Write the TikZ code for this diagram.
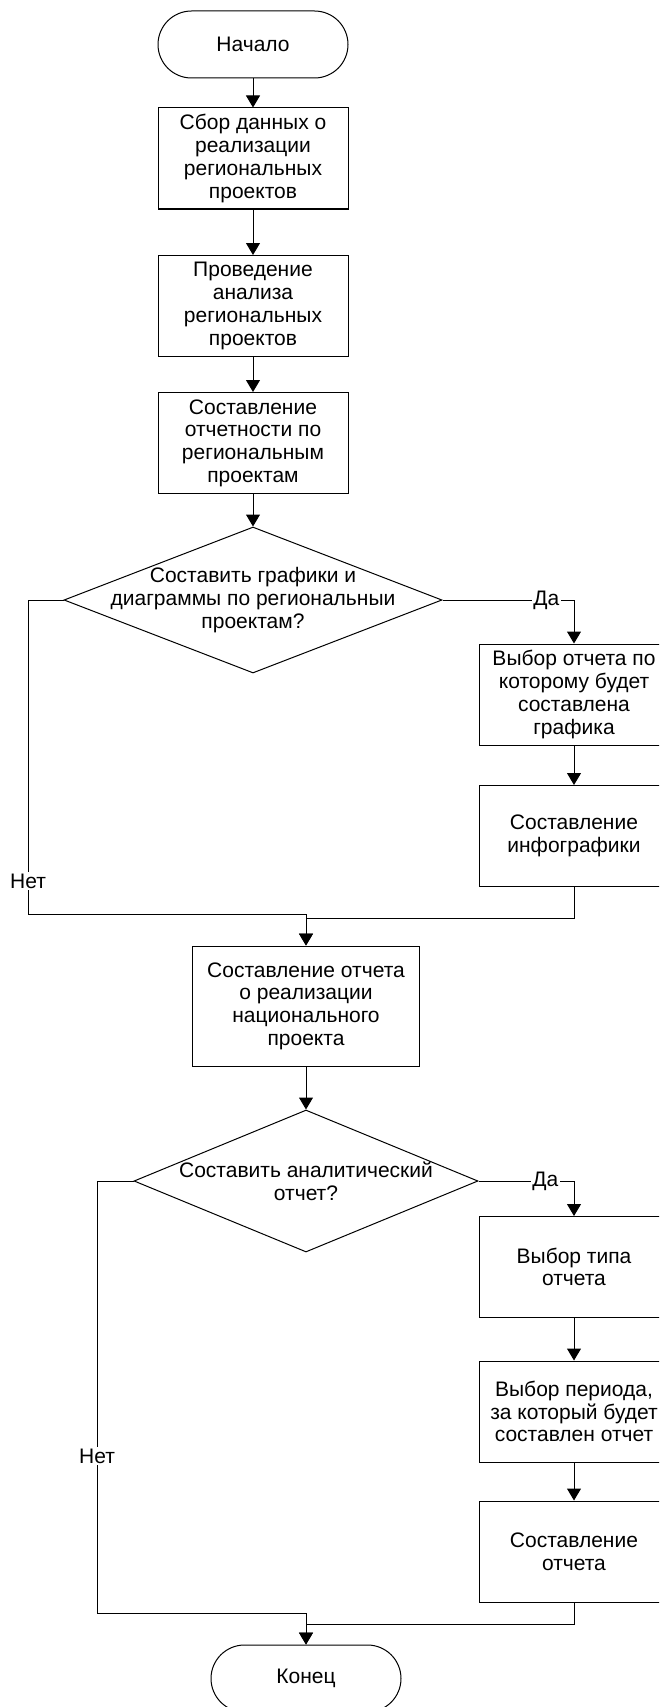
\documentclass[tikz,border=0pt]{standalone}
\usepackage{fontspec}
\setmainfont{Liberation Sans}
\usetikzlibrary{arrows.meta,shapes.geometric}

\tikzset{
  every node/.style={font=\fontsize{21}{22.7}\selectfont},
  arr/.style={line width=1pt, draw=black, -{Triangle[width=14pt,length=12pt]}},
  stepbox/.style={draw, line width=1pt, minimum width=190pt, minimum height=101pt,
                  align=center, inner sep=0pt},
  term/.style={draw, line width=1pt, rounded corners=33.5pt, minimum width=190pt,
               minimum height=67pt, inner sep=0pt},
  decision/.style={draw, diamond, line width=1pt, inner sep=0pt},
  dtext/.style={align=center, inner sep=0pt},
  lab/.style={fill=white, inner sep=1.5pt},
}

\begin{document}
\begin{tikzpicture}[x=1pt,y=-1pt]
\useasboundingbox (0,0) rectangle (659,1707);
\clip (0,0) rectangle (659,1707);

% main column
\node[term] (start) at (253,44.5) {Начало};
\node[stepbox] (b1) at (253,158.5) {Сбор данных о\\реализации\\региональных\\проектов};
\node[stepbox] (b2) at (253,306) {Проведение\\анализа\\региональных\\проектов};
\node[stepbox] (b3) at (253,443) {Составление\\отчетности по\\региональным\\проектам};
\node[decision, minimum width=378pt, minimum height=146pt] (d1) at (253,600) {};
\node[dtext] (d1t) at (d1.center) {Составить графики и\\диаграммы по региональныи\\проектам?};

% first branch
\node[stepbox] (b4) at (574,694.5) {Выбор отчета по\\которому будет\\составлена\\графика};
\node[stepbox] (b5) at (574,836) {Составление\\инфографики};

\node[stepbox, minimum width=227pt, minimum height=120pt] (b6) at (306,1006)
  {Составление отчета\\о реализации\\национального\\проекта};
\node[decision, minimum width=344pt, minimum height=142pt] (d2) at (306,1181) {};
\node[dtext] (d2t) at (d2.center) {Составить аналитический\\отчет?};

% second branch
\node[stepbox] (b7) at (574,1267) {Выбор типа\\отчета};
\node[stepbox] (b8) at (574,1411.5) {Выбор периода,\\за который будет\\составлен отчет};
\node[stepbox] (b9) at (574,1551.5) {Составление\\отчета};

\node[term] (fin) at (306,1678.5) {Конец};

% bend points
\coordinate (m1) at (574,918);
\coordinate (n1a) at (28,600);
\coordinate (n1b) at (28,914);
\coordinate (m2) at (574,1624);
\coordinate (n2a) at (97,1181);
\coordinate (n2b) at (97,1613);

% connectors
\draw[arr] (start) -- (b1);
\draw[arr] (b1) -- (b2);
\draw[arr] (b2) -- (b3);
\draw[arr] (b3) -- (d1);
\draw[arr] (d1.east) -- node[lab, pos=0.79] {Да} (d1.east -| b4.north) -- (b4.north);
\draw[arr] (b4) -- (b5);
\draw[arr] (b5.south) -- (m1) -- (m1 -| b6.north) -- (b6.north);
\draw[arr] (d1.west) -- (n1a) -- node[lab, pos=0.895] {Нет} (n1b) -- (n1b -| b6.north) -- (b6.north);

\draw[arr] (b6) -- (d2);
\draw[arr] (d2.east) -- node[lab, pos=0.70] {Да} (d2.east -| b7.north) -- (b7.north);
\draw[arr] (b7) -- (b8);
\draw[arr] (b8) -- (b9);
\draw[arr] (b9.south) -- (m2) -- (m2 -| fin.north) -- (fin.north);
\draw[arr] (d2.west) -- (n2a) -- node[lab, pos=0.637] {Нет} (n2b) -- (n2b -| fin.north) -- (fin.north);
\end{tikzpicture}
\end{document}
